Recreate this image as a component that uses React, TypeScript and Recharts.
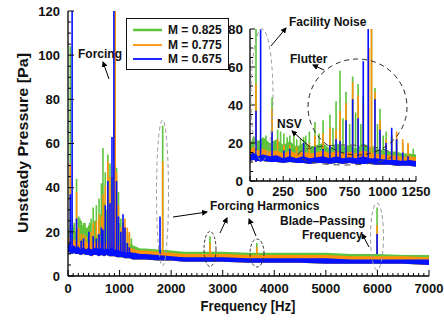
import React from 'react';
import { ComposedChart, Area, Line, XAxis, YAxis, Legend } from 'recharts';

const FONT = '"Liberation Sans", Arial, Helvetica, sans-serif';

const SERIES_NAMES = ['M = 0.825', 'M = 0.775', 'M = 0.675'];
const SERIES_COLORS = ['#5ec43c', '#ff9208', '#0512ff'];

// broadband noise floor (Pa), sampled along frequency (Hz)
const FLOOR_FREQ = [0, 25, 60, 100, 150, 200, 250, 300, 350, 400, 450, 500, 550, 600, 650, 700, 750, 800, 850, 900, 950, 1000, 1050, 1100, 1150, 1200, 1250, 1300, 1400, 1500, 1750, 2000, 2250, 2500, 2750, 3000, 3500, 4000, 4500, 5000, 5500, 6000, 6500, 7000];
const GREEN_TOP = [19, 24, 21, 23, 20, 22, 19, 21, 18, 20, 18, 19, 20, 17, 20, 18, 19, 17, 20, 18, 17, 16.5, 15.5, 15.5, 14.5, 14.5, 14, 13.5, 12.5, 12.5, 12, 11.5, 11, 11, 11, 11, 10.5, 10.5, 10.5, 10.5, 10, 10, 9.5, 9.5];
const ORANGE_TOP = [16, 18, 16, 17, 15.5, 16, 14.5, 16, 14.5, 15.5, 14.5, 15, 16, 14.5, 16, 14.5, 15.5, 14.5, 16, 15, 14.5, 14, 13.5, 13.5, 12.5, 13, 12.5, 12, 11.5, 11.5, 11, 10.5, 10, 10, 10, 10, 9.5, 9.5, 9.5, 9.5, 9, 9, 9, 8.5];
const BLUE_TOP = [14, 15, 13, 14, 13, 13.5, 12, 13, 12, 13, 12, 12.5, 13, 12, 13, 12, 12.5, 12, 13, 12, 12, 11.5, 11, 11, 10.5, 11, 10.5, 10.5, 10, 10, 9.5, 9, 8.5, 8.5, 8.5, 8.5, 8, 8, 8, 8, 7.5, 7.5, 7.5, 7.5];
const BLUE_BOTTOM = [10.5, 11, 10.5, 10.5, 10, 10, 9.5, 10, 9.5, 9.5, 9, 9.5, 9.5, 9, 9.5, 9, 9.5, 9, 9, 9, 8.5, 8.5, 8.5, 8, 8, 8, 7.5, 7.5, 7.5, 7.5, 7, 7, 6.5, 6.5, 6.5, 6.5, 6, 6, 6, 5.5, 5.5, 5.5, 5.5, 5];

// tonal peaks [Hz, Pa]
const GREEN_PEAKS = [[45, 104], [120, 24], [166, 44], [208, 27], [230, 26], [255, 25], [280, 23], [300, 24], [330, 24], [352, 22], [380, 22], [404, 23], [420, 24], [447, 26], [489, 31], [520, 25], [550, 32], [602, 35], [625, 28], [648, 42], [678, 58], [700, 33], [723, 47], [750, 30], [773, 55], [795, 36], [814, 51], [835, 30], [853, 45], [915, 140], [941, 49], [960, 30], [979, 38], [1003, 24], [1025, 26], [1067, 24], [1104, 22], [1150, 20], [1190, 19], [1230, 17], [1836, 68], [2753, 18], [3660, 15], [5993, 31]];
const ORANGE_PEAKS = [[45, 51], [166, 38], [208, 22], [255, 19], [300, 19], [350, 18], [404, 18], [447, 20], [489, 24], [550, 25], [602, 28], [648, 27], [678, 37], [723, 41], [773, 52], [814, 45], [853, 40], [895, 70], [915, 140], [941, 47], [979, 32], [1025, 22], [1067, 24], [1104, 26], [1150, 22], [1190, 20], [1836, 52], [2753, 15], [3660, 13], [5993, 23]];
const BLUE_PEAKS = [[45, 37], [80, 140], [166, 26], [255, 16], [300, 17], [404, 20], [489, 18], [550, 17], [602, 19], [648, 22], [678, 21], [723, 32], [773, 43], [814, 33], [853, 63], [890, 140], [941, 43], [979, 27], [1025, 20], [1067, 28], [1104, 22], [1150, 15], [1190, 13], [1784, 27], [5993, 19]];

const MAIN_X_LABELS = [0, 1000, 2000, 3000, 4000, 5000, 6000, 7000];
const MAIN_Y_LABELS = [0, 20, 40, 60, 80, 100, 120];
const INSET_X_LABELS = [0, 250, 500, 750, 1000, 1250];
const INSET_Y_LABELS = [0, 20, 40, 60, 80];

const SPIKE_BASE = 10;

const steps = (step: number, max: number) => Array.from({ length: Math.round(max / step) + 1 }, (_, i) => i * step);

const floorRows = FLOOR_FREQ.map((f, i) => ({
  f,
  green: [BLUE_BOTTOM[i], GREEN_TOP[i]],
  orange: [BLUE_BOTTOM[i], ORANGE_TOP[i]],
  blue: [BLUE_BOTTOM[i], BLUE_TOP[i]],
}));

const spikeRows = (peaks: number[][]) =>
  peaks.flatMap(([f, p]) => [
    { f, v: SPIKE_BASE },
    { f, v: p },
    { f, v: null },
  ]);

const spikes = [spikeRows(GREEN_PEAKS), spikeRows(ORANGE_PEAKS), spikeRows(BLUE_PEAKS)];
const bandKeys = ['green', 'orange', 'blue'];

type Side = 'bottom' | 'left' | 'top' | 'right';

function axisTick(side: Side, labels: number[], fontSize: number, major: number, minor: number, gap: number) {
  return (props: any) => {
    const { x, y, payload } = props;
    const value = payload.value as number;
    const isMajor = labels.includes(value);
    const len = isMajor ? major : minor;
    const end = { bottom: [x, y - len], top: [x, y + len], left: [x + len, y], right: [x - len, y] }[side];
    return (
      <g>
        <line x1={x} y1={y} x2={end[0]} y2={end[1]} stroke="#000" strokeWidth={1} />
        {isMajor && side === 'bottom' && (
          <text x={x} y={y + gap} textAnchor="middle" fontFamily={FONT} fontWeight={700} fontSize={fontSize} fill="#111">
            {value}
          </text>
        )}
        {isMajor && side === 'left' && (
          <text x={x - gap} y={y + fontSize * 0.36} textAnchor="end" fontFamily={FONT} fontWeight={700} fontSize={fontSize} fill="#111">
            {value}
          </text>
        )}
      </g>
    );
  };
}

function seriesItems() {
  const items: React.ReactNode[] = [];
  SERIES_NAMES.forEach((name, i) => {
    items.push(
      <Area
        key={`band-${i}`}
        dataKey={bandKeys[i]}
        type="linear"
        stroke="none"
        fill={SERIES_COLORS[i]}
        fillOpacity={1}
        legendType="none"
        dot={false}
        activeDot={false}
        isAnimationActive={false}
        zIndex={101 + i * 2}
      />
    );
    items.push(
      <Line
        key={`spike-${i}`}
        data={spikes[i]}
        dataKey="v"
        name={name}
        type="linear"
        stroke={SERIES_COLORS[i]}
        strokeWidth={1.6}
        dot={false}
        activeDot={false}
        connectNulls={false}
        isAnimationActive={false}
        zIndex={102 + i * 2}
      />
    );
  });
  return items;
}

const LegendBox = () => (
  <div
    style={{
      position: 'relative',
      width: 103,
      height: 52,
      border: '1px solid #111',
      boxSizing: 'border-box',
      background: '#fff',
      fontFamily: FONT,
      fontWeight: 700,
      fontSize: 12,
      color: '#111',
    }}
  >
    {SERIES_NAMES.map((name, i) => (
      <div key={name} style={{ position: 'absolute', left: 6, top: 4 + i * 14.5, height: 14, display: 'flex', alignItems: 'center', whiteSpace: 'nowrap' }}>
        <svg width={29} height={14}>
          <line x1={0} y1={7} x2={29} y2={7} stroke={SERIES_COLORS[i]} strokeWidth={i === 0 ? 2.5 : 1.8} />
        </svg>
        <span style={{ marginLeft: 6, lineHeight: '14px' }}>{name}</span>
      </div>
    ))}
  </div>
);

const frame = { stroke: '#000', strokeWidth: 1.3 };

function MainChart() {
  return (
    <ComposedChart width={444} height={327} data={floorRows} margin={{ top: 11, right: 15, bottom: 21, left: 18 }}>
      <XAxis dataKey="f" type="number" domain={[0, 7000]} allowDataOverflow ticks={steps(100, 7000)} interval={0}
        tickSize={0} tickMargin={0} tickLine={false} axisLine={frame} height={30}
        tick={axisTick('bottom', MAIN_X_LABELS, 13, 6, 3, 17)} />
      <XAxis xAxisId="top" orientation="top" dataKey="f" type="number" domain={[0, 7000]} allowDataOverflow ticks={steps(100, 7000)} interval={0}
        tickSize={0} tickMargin={0} tickLine={false} axisLine={frame} height={0}
        tick={axisTick('top', MAIN_X_LABELS, 13, 6, 3, 0)} />
      <YAxis type="number" domain={[0, 120]} allowDataOverflow ticks={steps(5, 120)} interval={0}
        tickSize={0} tickMargin={0} tickLine={false} axisLine={frame} width={50}
        tick={axisTick('left', MAIN_Y_LABELS, 13, 6, 3, 8)} />
      <YAxis yAxisId="right" orientation="right" type="number" domain={[0, 120]} allowDataOverflow ticks={steps(5, 120)} interval={0}
        tickSize={0} tickMargin={0} tickLine={false} axisLine={frame} width={0}
        tick={axisTick('right', MAIN_Y_LABELS, 13, 6, 3, 0)} />
      {seriesItems()}
      <Legend layout="vertical" align="center" verticalAlign="middle"
        wrapperStyle={{ left: 126, top: 18, width: 103, height: 52 }} content={() => <LegendBox />} />
    </ComposedChart>
  );
}

function InsetChart() {
  return (
    <ComposedChart width={235} height={184} data={floorRows} margin={{ top: 7, right: 34, bottom: 5, left: 5 }}>
      <XAxis dataKey="f" type="number" domain={[0, 1250]} allowDataOverflow ticks={steps(50, 1250)} interval={0}
        tickSize={0} tickMargin={0} tickLine={false} axisLine={frame} height={20}
        tick={axisTick('bottom', INSET_X_LABELS, 13, 5, 3, 15)} />
      <XAxis xAxisId="top" orientation="top" dataKey="f" type="number" domain={[0, 1250]} allowDataOverflow ticks={steps(50, 1250)} interval={0}
        tickSize={0} tickMargin={0} tickLine={false} axisLine={frame} height={0}
        tick={axisTick('top', INSET_X_LABELS, 13, 5, 3, 0)} />
      <YAxis type="number" domain={[0, 80]} allowDataOverflow ticks={steps(5, 80)} interval={0}
        tickSize={0} tickMargin={0} tickLine={false} axisLine={frame} width={30}
        tick={axisTick('left', INSET_Y_LABELS, 13.5, 5, 3, 7)} />
      <YAxis yAxisId="right" orientation="right" type="number" domain={[0, 80]} allowDataOverflow ticks={steps(5, 80)} interval={0}
        tickSize={0} tickMargin={0} tickLine={false} axisLine={frame} width={0}
        tick={axisTick('right', INSET_Y_LABELS, 13.5, 5, 3, 0)} />
      {seriesItems()}
    </ComposedChart>
  );
}

const NOTES = [
  { text: 'Forcing', x: 78, y: 58 },
  { text: 'Forcing Harmonics', x: 210, y: 210 },
  { text: 'Blade–Passing', x: 280, y: 225 },
  { text: 'Frequency', x: 302, y: 239 },
  { text: 'Facility Noise', x: 289, y: 26 },
  { text: 'Flutter', x: 290, y: 63 },
  { text: 'NSV', x: 277, y: 128 },
];

const ARROWS = [
  [109, 79, 103, 62],
  [173, 217, 207, 212],
  [220, 233, 227, 218],
  [256, 236, 249, 219],
  [369, 247, 362, 234],
  [271, 46, 286, 28],
  [324, 70, 313, 65],
  [310, 147, 292, 131],
];

const RINGS = [
  { cx: 162.5, cy: 193, rx: 6, ry: 73, color: '#9a9a9a', dash: '4 3' },
  { cx: 210, cy: 249, rx: 6, ry: 17.5, color: '#333', dash: '3 2' },
  { cx: 257, cy: 253, rx: 7, ry: 14, color: '#333', dash: '3 2' },
  { cx: 377, cy: 236.5, rx: 6.5, ry: 33.5, color: '#9a9a9a', dash: '4 3' },
  { cx: 262, cy: 95, rx: 11, ry: 66, color: '#9a9a9a', dash: '4 3' },
  { cx: 357.5, cy: 107, rx: 49.5, ry: 48, color: '#222', dash: '5 4' },
  { cx: 345, cy: 155, rx: 47, ry: 10, color: '#444', dash: '6 5' },
];

function Annotations() {
  return (
    <svg width={444} height={327} style={{ position: 'absolute', left: 0, top: 0, pointerEvents: 'none' }}>
      <defs>
        <marker id="head" markerWidth="6" markerHeight="6" refX="5" refY="3" orient="auto">
          <path d="M0,0 L6,3 L0,6 z" fill="#000" />
        </marker>
      </defs>
      {RINGS.map((r, i) => (
        <ellipse key={i} cx={r.cx} cy={r.cy} rx={r.rx} ry={r.ry} fill="none" stroke={r.color} strokeWidth={1} strokeDasharray={r.dash} />
      ))}
      {ARROWS.map(([x1, y1, x2, y2], i) => (
        <line key={i} x1={x1} y1={y1} x2={x2} y2={y2} stroke="#000" strokeWidth={1} markerEnd="url(#head)" />
      ))}
      <g fontFamily={FONT} fontWeight={700} fontSize={12} fill="#111">
        {NOTES.map((n) => (
          <text key={n.text} x={n.x} y={n.y}>{n.text}</text>
        ))}
      </g>
      <text x={248} y={311} textAnchor="middle" fontFamily={FONT} fontWeight={700} fontSize={14} textLength={95} lengthAdjust="spacingAndGlyphs" fill="#111">
        Frequency [Hz]
      </text>
      <text transform="translate(28,143) rotate(-90)" textAnchor="middle" fontFamily={FONT} fontWeight={700} fontSize={15} textLength={180} lengthAdjust="spacingAndGlyphs" fill="#111">
        Unsteady Pressure [Pa]
      </text>
    </svg>
  );
}

export default function App() {
  return (
    <div style={{ position: 'absolute', left: 0, top: 0, width: 444, height: 327, background: '#fff', fontFamily: FONT }}>
      <MainChart />
      <div style={{ position: 'absolute', left: 215, top: 22 }}>
        <InsetChart />
      </div>
      <Annotations />
    </div>
  );
}
